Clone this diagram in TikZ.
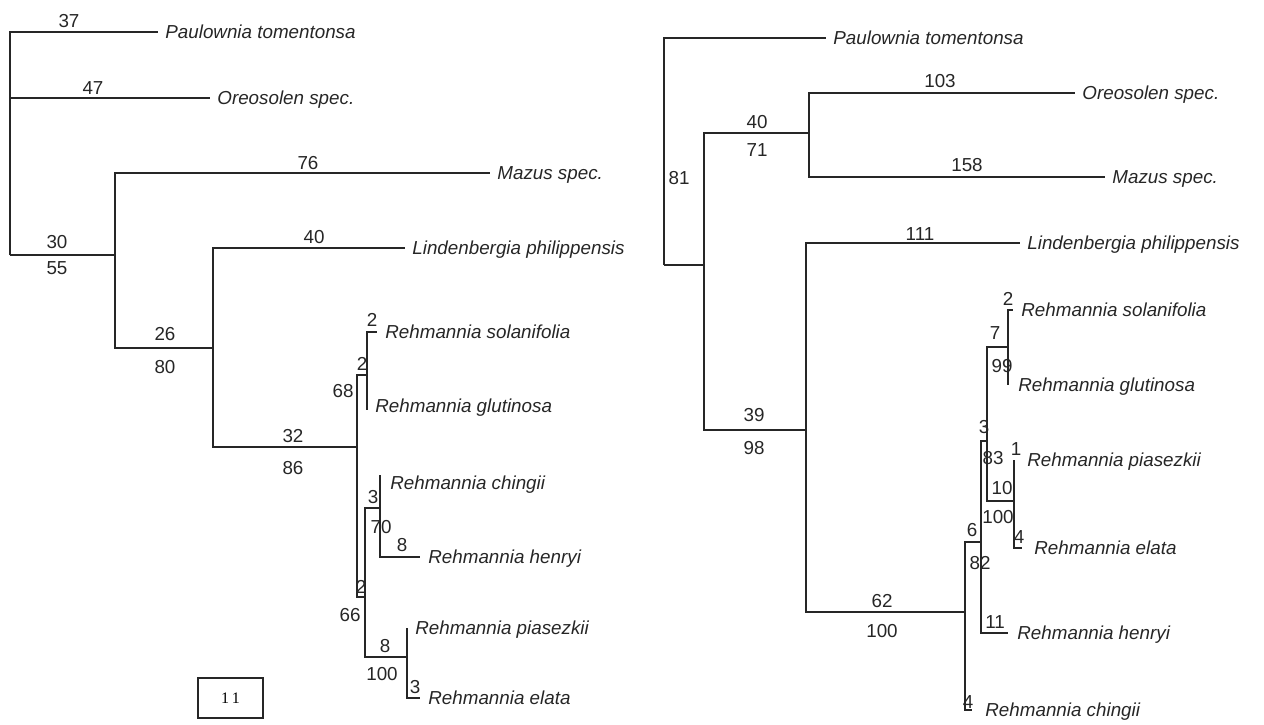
\documentclass[tikz,border=0pt]{standalone}
\usepackage{fontspec}
\setmainfont{Liberation Sans}
\newfontfamily\boxfont{Liberation Serif}
\usetikzlibrary{positioning}

\begin{document}
\begin{tikzpicture}[x=0.5pt,y=-0.5pt,
    br/.style={line width=0.9pt, draw=black!85},
    tw/.style={line width=0.6pt, draw=black!85},
    num/.style={font=\fontsize{9.4}{11}\selectfont, text=black!85, inner sep=0pt},
    taxon/.style={font=\fontsize{9.4}{11}\selectfont\itshape, text=black!85,
      inner sep=1pt, text height=6.7pt, text depth=0pt}]
\useasboundingbox (0,0) rectangle (1264,724);

% left tree
\coordinate (lroot) at (10,255);
\coordinate (lpau) at (158,32);
\coordinate (loreo) at (210,98);
\coordinate (lA) at (115,255);
\coordinate (lmaz) at (490,173);
\coordinate (lB) at (213,348);
\coordinate (llind) at (405,248);
\coordinate (lC) at (357,447);
\coordinate (lD) at (367,375);
\coordinate (lsol) at (377,332);
\coordinate (lglu) at (367,410);
\coordinate (lE) at (365,597);
\coordinate (lF) at (380,508);
\coordinate (lchi) at (380,475);
\coordinate (lhen) at (420,557);
\coordinate (lG) at (407,657);
\coordinate (lpia) at (407,628);
\coordinate (lela) at (420,698);

\draw[br] (lroot) |- (lpau);
\draw[br] (lroot) |- (loreo);
\draw[br] (lroot) -- (lA);
\draw[br] (lA) |- (lmaz);
\draw[br] (lA) |- (lB);
\draw[br] (lB) |- (llind);
\draw[br] (lB) |- (lC);
\draw[tw] (lC) |- (lD);
\draw[tw] (lC) |- (lE);
\draw[tw] (lD) |- (lsol);
\draw[tw] (lD) |- (lglu);
\draw[tw] (lE) |- (lF);
\draw[tw] (lE) |- (lG);
\draw[tw] (lF) |- (lchi);
\draw[tw] (lF) |- (lhen);
\draw[tw] (lG) |- (lpia);
\draw[tw] (lG) |- (lela);

\node[taxon, right=2.5pt of lpau] (tlpau) {Paulownia tomentonsa};
\node[taxon, right=2.5pt of loreo] (tloreo) {Oreosolen spec.};
\node[taxon, right=2.5pt of lmaz] (tlmaz) {Mazus spec.};
\node[taxon, right=2.5pt of llind] (tllind) {Lindenbergia philippensis};
\node[taxon, right=3pt of lsol] (tlsol) {Rehmannia solanifolia};
\node[taxon, right=3pt of lglu, yshift=2pt] (tlglu) {Rehmannia glutinosa};
\node[taxon, right=4pt of lchi, yshift=-4pt] (tlchi) {Rehmannia chingii};
\node[taxon, right=3pt of lhen] (tlhen) {Rehmannia henryi};
\node[taxon, right=3pt of lpia] (tlpia) {Rehmannia piasezkii};
\node[taxon, right=3pt of lela] (tlela) {Rehmannia elata};

\node[num] (lpau-u) at (69,21) {37};
\node[num] (loreo-u) at (93,88) {47};
\node[num] (lA-u) at (57,242) {30};
\node[num] (lA-d) at (57,268) {55};
\node[num] (lmaz-u) at (308,163) {76};
\node[num] (lB-u) at (165,334) {26};
\node[num] (lB-d) at (165,367) {80};
\node[num] (llind-u) at (314,237) {40};
\node[num] (lC-u) at (293,436) {32};
\node[num] (lC-d) at (293,468) {86};
\node[num] (lsol-u) at (372,320) {2};
\node[num] (lD-u) at (362,364) {2};
\node[num] (lD-d) at (343,391) {68};
\node[num] (lF-u) at (373,497) {3};
\node[num] (lF-d) at (381,527) {70};
\node[num] (lhen-u) at (402,545) {8};
\node[num] (lE-u) at (361,587) {2};
\node[num] (lE-d) at (350,615) {66};
\node[num] (lG-u) at (385,646) {8};
\node[num] (lG-d) at (382,674) {100};
\node[num] (lela-u) at (415,687) {3};

\node[draw=black!85, line width=0.6pt, minimum width=32.5pt, minimum height=20pt,
  font=\boxfont\fontsize{8}{9}\selectfont] (scale) at (230.5,698) {1\kern1.5pt 1};

% right tree
\coordinate (rroot) at (664,265);
\coordinate (rpau) at (826,38);
\coordinate (rH) at (704,265);
\coordinate (rI) at (809,133);
\coordinate (roreo) at (1075,93);
\coordinate (rmaz) at (1105,177);
\coordinate (rJ) at (806,430);
\coordinate (rlind) at (1020,243);
\coordinate (rK) at (965,612);
\coordinate (rchi) at (972,710);
\coordinate (rL) at (981,542);
\coordinate (rhen) at (1008,633);
\coordinate (rM) at (987,441);
\coordinate (rN) at (1008,347);
\coordinate (rsol) at (1013,310);
\coordinate (rglu) at (1008,385);
\coordinate (rO) at (1014,501);
\coordinate (rpia) at (1014,460);
\coordinate (rela) at (1022,548);

\draw[br] (rroot) |- (rpau);
\draw[br] (rroot) -- (rH);
\draw[br] (rH) |- (rI);
\draw[br] (rH) |- (rJ);
\draw[br] (rI) |- (roreo);
\draw[br] (rI) |- (rmaz);
\draw[br] (rJ) |- (rlind);
\draw[br] (rJ) |- (rK);
\draw[tw] (rK) |- (rL);
\draw[tw] (rK) |- (rchi);
\draw[tw] (rL) |- (rM);
\draw[tw] (rL) |- (rhen);
\draw[tw] (rM) |- (rN);
\draw[tw] (rM) |- (rO);
\draw[tw] (rN) |- (rsol);
\draw[tw] (rN) |- (rglu);
\draw[tw] (rO) |- (rpia);
\draw[tw] (rO) |- (rela);

\node[taxon, right=2.5pt of rpau] (trpau) {Paulownia tomentonsa};
\node[taxon, right=2.5pt of roreo] (troreo) {Oreosolen spec.};
\node[taxon, right=2.5pt of rmaz] (trmaz) {Mazus spec.};
\node[taxon, right=2.5pt of rlind] (trlind) {Lindenbergia philippensis};
\node[taxon, right=3pt of rsol] (trsol) {Rehmannia solanifolia};
\node[taxon, right=4pt of rglu] (trglu) {Rehmannia glutinosa};
\node[taxon, right=5.5pt of rpia] (trpia) {Rehmannia piasezkii};
\node[taxon, right=5pt of rela] (trela) {Rehmannia elata};
\node[taxon, right=3.5pt of rhen] (trhen) {Rehmannia henryi};
\node[taxon, right=5.5pt of rchi] (trchi) {Rehmannia chingii};

\node[num] (rroot-l) at (679,178) {81};
\node[num] (rI-u) at (757,122) {40};
\node[num] (rI-d) at (757,150) {71};
\node[num] (roreo-u) at (940,81) {103};
\node[num] (rmaz-u) at (967,165) {158};
\node[num] (rlind-u) at (920,234) {111};
\node[num] (rJ-u) at (754,415) {39};
\node[num] (rJ-d) at (754,448) {98};
\node[num] (rK-u) at (882,601) {62};
\node[num] (rK-d) at (882,631) {100};
\node[num] (rsol-u) at (1008,299) {2};
\node[num] (rN-u) at (995,333) {7};
\node[num] (rN-d) at (1002,366) {99};
\node[num] (rM-u) at (984,427) {3};
\node[num] (rM-d) at (993,458) {83};
\node[num] (rpia-u) at (1016,449) {1};
\node[num] (rO-u) at (1002,488) {10};
\node[num] (rO-d) at (998,517) {100};
\node[num] (rela-u) at (1019,537) {4};
\node[num] (rL-u) at (972,530) {6};
\node[num] (rL-d) at (980,563) {82};
\node[num] (rhen-u) at (995,622) {11};
\node[num] (rchi-u) at (968,702) {4};
\end{tikzpicture}
\end{document}
